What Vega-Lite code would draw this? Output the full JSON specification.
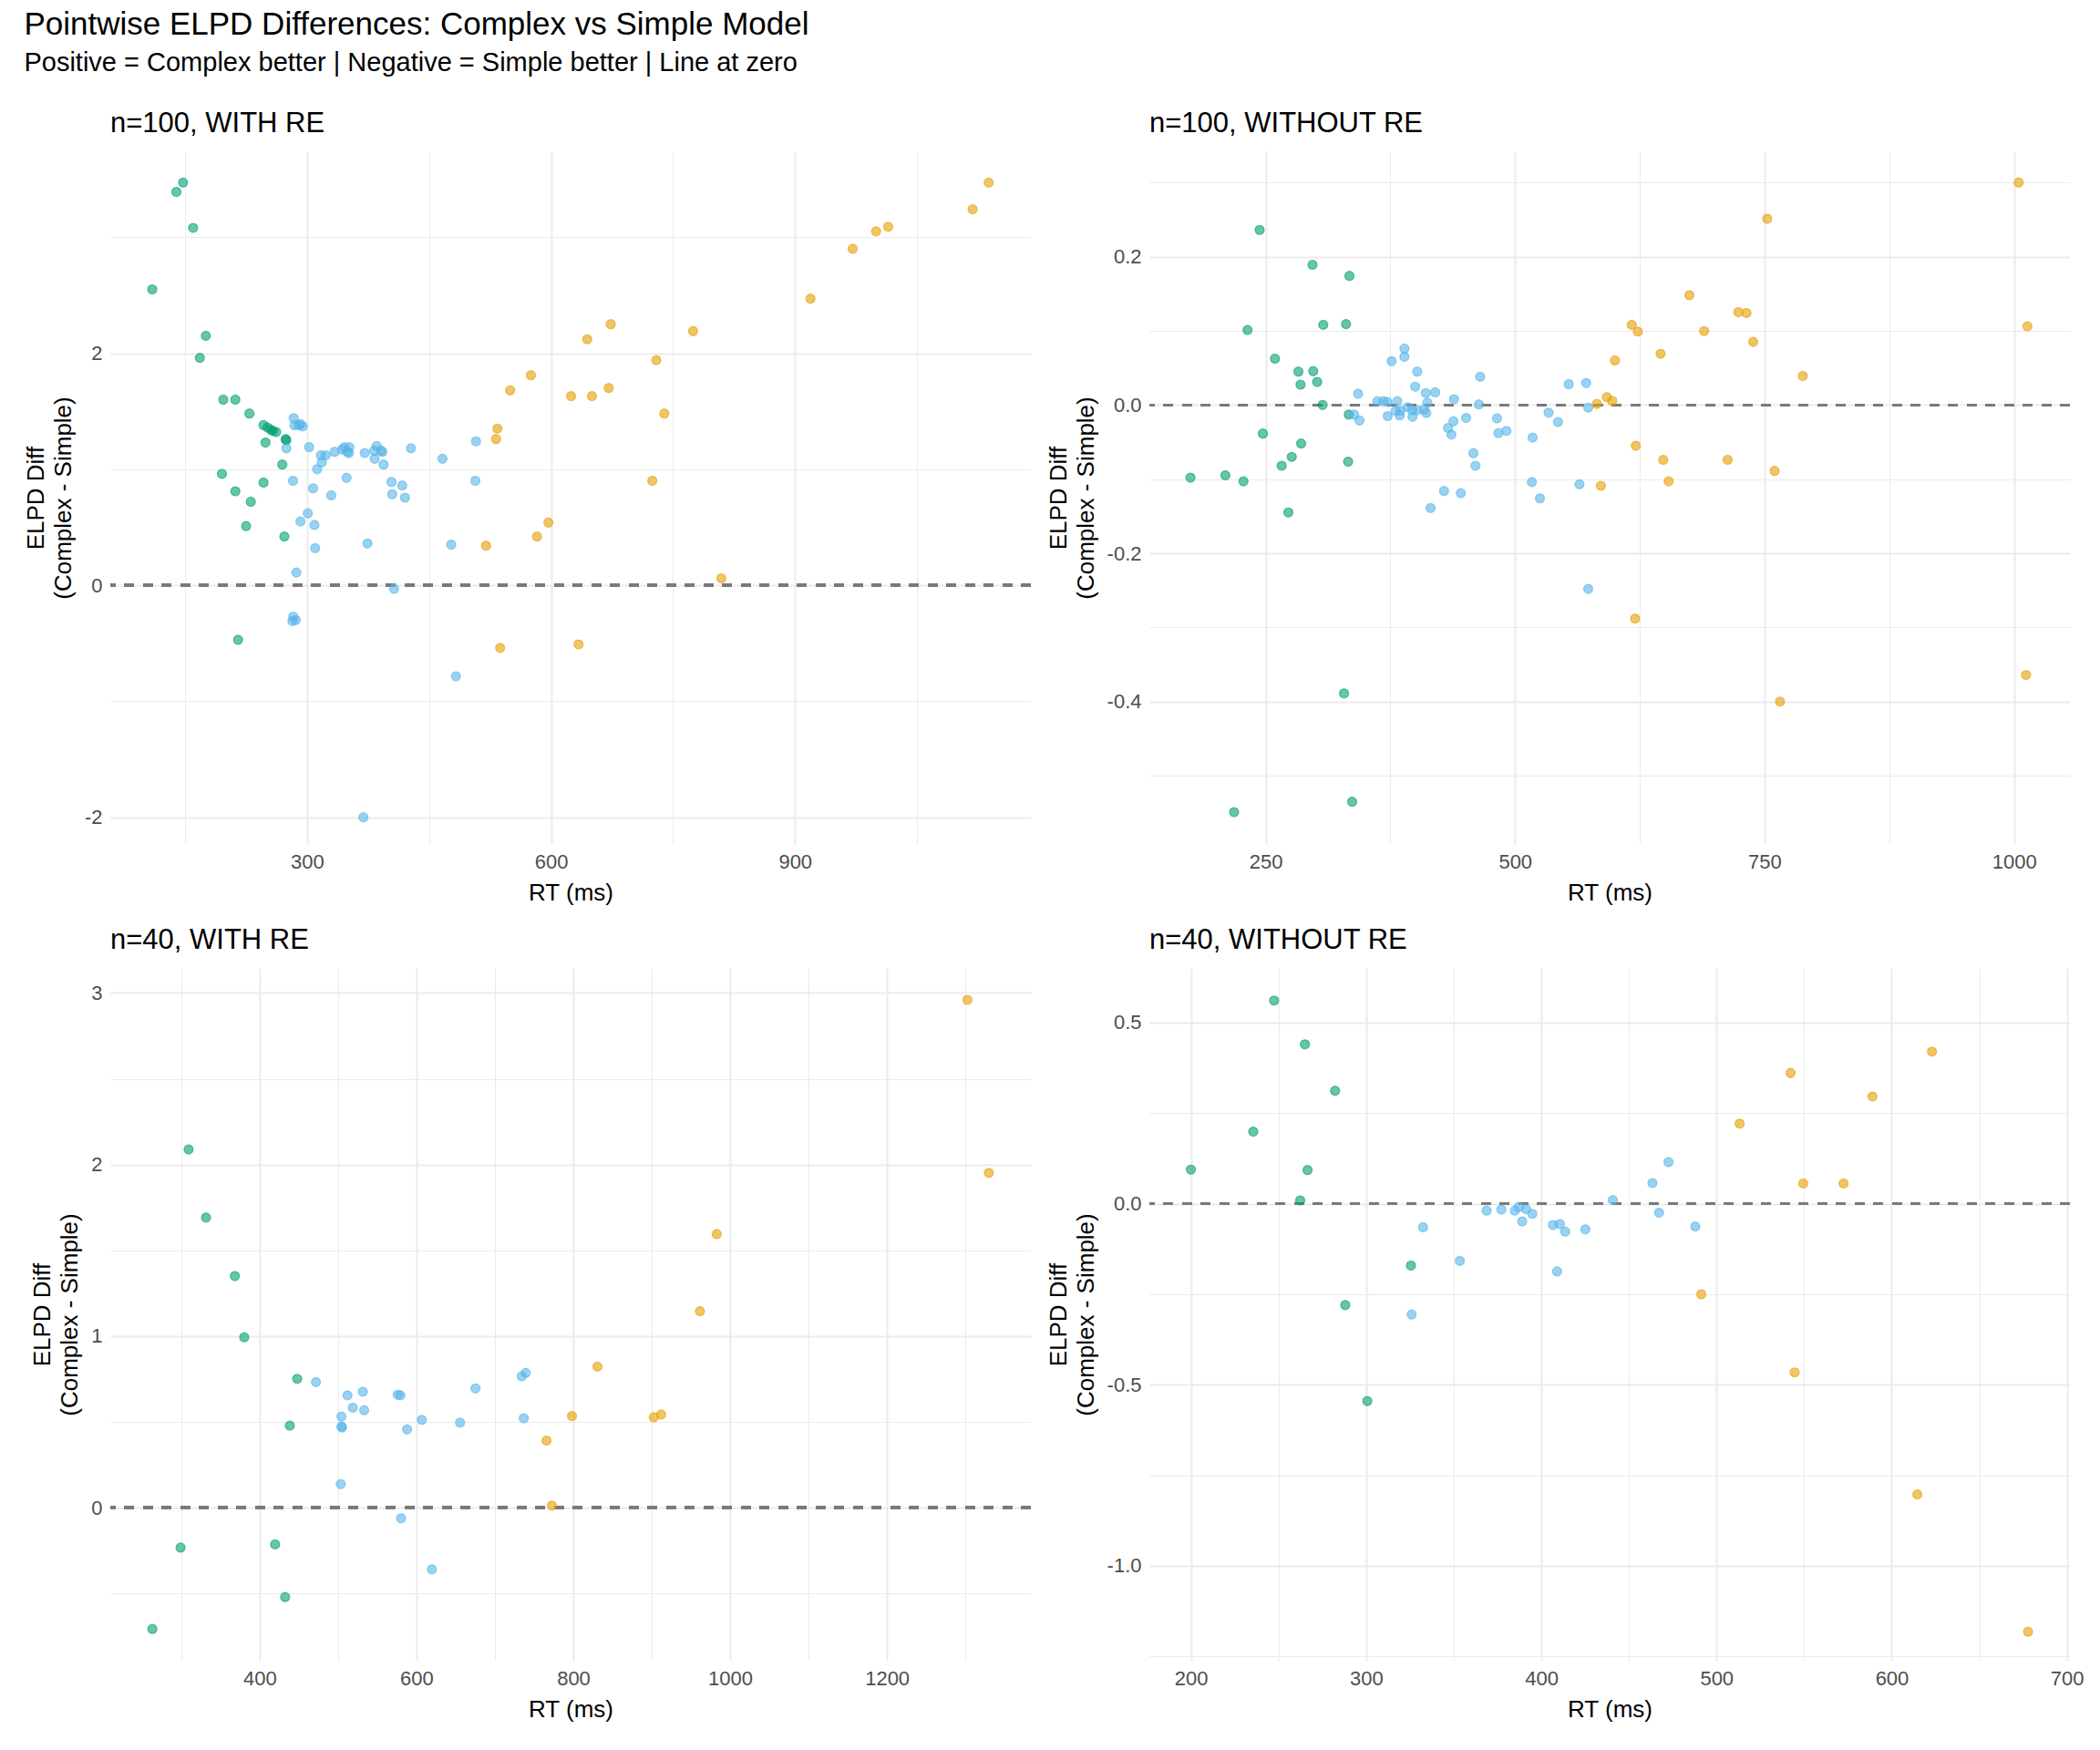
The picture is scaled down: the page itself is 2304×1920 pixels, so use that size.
{
  "$schema": "https://vega.github.io/schema/vega-lite/v6.json",
  "background": "white",
  "padding": {"left": 26, "top": 10, "right": 20, "bottom": 10},
  "config": {
    "font": "Liberation Sans",
    "view": {"stroke": null},
    "axis": {
      "domain": false,
      "ticks": false,
      "grid": true,
      "gridColor": "#ebebeb",
      "labelColor": "#4d4d4d",
      "labelFontSize": 22,
      "labelPadding": 9,
      "titleFontSize": 26,
      "titleLineHeight": 30,
      "titleFontWeight": "normal",
      "titleColor": "#000000",
      "titlePadding": 10
    }
  },
  "title": {
    "text": "Pointwise ELPD Differences: Complex vs Simple Model",
    "subtitle": "Positive = Complex better | Negative = Simple better | Line at zero",
    "anchor": "start",
    "frame": "bounds",
    "fontSize": 35,
    "fontWeight": "normal",
    "color": "#000000",
    "subtitleFontSize": 29,
    "subtitleColor": "#000000",
    "subtitlePadding": 10,
    "offset": 36
  },
  "datasets": {
    "elpd": [
      {"panel": "n=100, WITH RE", "speed": "Fast", "rt": 139.3, "diff": 3.39},
      {"panel": "n=100, WITH RE", "speed": "Fast", "rt": 147.5, "diff": 3.47},
      {"panel": "n=100, WITH RE", "speed": "Fast", "rt": 159.9, "diff": 3.08},
      {"panel": "n=100, WITH RE", "speed": "Fast", "rt": 109.6, "diff": 2.55},
      {"panel": "n=100, WITH RE", "speed": "Fast", "rt": 175.5, "diff": 2.15},
      {"panel": "n=100, WITH RE", "speed": "Fast", "rt": 168.1, "diff": 1.96},
      {"panel": "n=100, WITH RE", "speed": "Fast", "rt": 197.0, "diff": 1.6},
      {"panel": "n=100, WITH RE", "speed": "Fast", "rt": 211.8, "diff": 1.6},
      {"panel": "n=100, WITH RE", "speed": "Fast", "rt": 229.1, "diff": 1.48},
      {"panel": "n=100, WITH RE", "speed": "Fast", "rt": 246.4, "diff": 1.38},
      {"panel": "n=100, WITH RE", "speed": "Fast", "rt": 251.4, "diff": 1.36},
      {"panel": "n=100, WITH RE", "speed": "Fast", "rt": 255.5, "diff": 1.34},
      {"panel": "n=100, WITH RE", "speed": "Fast", "rt": 258.0, "diff": 1.33},
      {"panel": "n=100, WITH RE", "speed": "Fast", "rt": 262.0, "diff": 1.32},
      {"panel": "n=100, WITH RE", "speed": "Fast", "rt": 273.6, "diff": 1.26},
      {"panel": "n=100, WITH RE", "speed": "Fast", "rt": 274.5, "diff": 1.25},
      {"panel": "n=100, WITH RE", "speed": "Fast", "rt": 248.9, "diff": 1.23},
      {"panel": "n=100, WITH RE", "speed": "Fast", "rt": 269.5, "diff": 1.04},
      {"panel": "n=100, WITH RE", "speed": "Fast", "rt": 195.3, "diff": 0.96},
      {"panel": "n=100, WITH RE", "speed": "Fast", "rt": 211.8, "diff": 0.81},
      {"panel": "n=100, WITH RE", "speed": "Fast", "rt": 246.4, "diff": 0.885},
      {"panel": "n=100, WITH RE", "speed": "Fast", "rt": 230.8, "diff": 0.72},
      {"panel": "n=100, WITH RE", "speed": "Fast", "rt": 225.0, "diff": 0.51},
      {"panel": "n=100, WITH RE", "speed": "Fast", "rt": 272.0, "diff": 0.42},
      {"panel": "n=100, WITH RE", "speed": "Fast", "rt": 215.1, "diff": -0.47},
      {"panel": "n=100, WITH RE", "speed": "Medium", "rt": 283.5, "diff": 1.44},
      {"panel": "n=100, WITH RE", "speed": "Medium", "rt": 284.5, "diff": 1.38},
      {"panel": "n=100, WITH RE", "speed": "Medium", "rt": 289.5, "diff": 1.38},
      {"panel": "n=100, WITH RE", "speed": "Medium", "rt": 294.5, "diff": 1.37},
      {"panel": "n=100, WITH RE", "speed": "Medium", "rt": 292.0, "diff": 1.39},
      {"panel": "n=100, WITH RE", "speed": "Medium", "rt": 274.5, "diff": 1.18},
      {"panel": "n=100, WITH RE", "speed": "Medium", "rt": 302.5, "diff": 1.19},
      {"panel": "n=100, WITH RE", "speed": "Medium", "rt": 317.0, "diff": 1.12},
      {"panel": "n=100, WITH RE", "speed": "Medium", "rt": 323.0, "diff": 1.12},
      {"panel": "n=100, WITH RE", "speed": "Medium", "rt": 318.0, "diff": 1.06},
      {"panel": "n=100, WITH RE", "speed": "Medium", "rt": 312.4, "diff": 1.0},
      {"panel": "n=100, WITH RE", "speed": "Medium", "rt": 333.8, "diff": 1.15},
      {"panel": "n=100, WITH RE", "speed": "Medium", "rt": 343.0, "diff": 1.17},
      {"panel": "n=100, WITH RE", "speed": "Medium", "rt": 346.0, "diff": 1.19},
      {"panel": "n=100, WITH RE", "speed": "Medium", "rt": 352.0, "diff": 1.19},
      {"panel": "n=100, WITH RE", "speed": "Medium", "rt": 351.5, "diff": 1.14},
      {"panel": "n=100, WITH RE", "speed": "Medium", "rt": 349.5, "diff": 1.15},
      {"panel": "n=100, WITH RE", "speed": "Medium", "rt": 370.9, "diff": 1.14},
      {"panel": "n=100, WITH RE", "speed": "Medium", "rt": 383.0, "diff": 1.09},
      {"panel": "n=100, WITH RE", "speed": "Medium", "rt": 385.5, "diff": 1.2},
      {"panel": "n=100, WITH RE", "speed": "Medium", "rt": 382.5, "diff": 1.16},
      {"panel": "n=100, WITH RE", "speed": "Medium", "rt": 391.0, "diff": 1.16},
      {"panel": "n=100, WITH RE", "speed": "Medium", "rt": 392.5, "diff": 1.15},
      {"panel": "n=100, WITH RE", "speed": "Medium", "rt": 394.0, "diff": 1.04},
      {"panel": "n=100, WITH RE", "speed": "Medium", "rt": 427.8, "diff": 1.18},
      {"panel": "n=100, WITH RE", "speed": "Medium", "rt": 466.5, "diff": 1.09},
      {"panel": "n=100, WITH RE", "speed": "Medium", "rt": 507.7, "diff": 1.24},
      {"panel": "n=100, WITH RE", "speed": "Medium", "rt": 506.9, "diff": 0.9},
      {"panel": "n=100, WITH RE", "speed": "Medium", "rt": 282.7, "diff": 0.9},
      {"panel": "n=100, WITH RE", "speed": "Medium", "rt": 307.4, "diff": 0.835},
      {"panel": "n=100, WITH RE", "speed": "Medium", "rt": 348.6, "diff": 0.925},
      {"panel": "n=100, WITH RE", "speed": "Medium", "rt": 329.7, "diff": 0.775},
      {"panel": "n=100, WITH RE", "speed": "Medium", "rt": 403.8, "diff": 0.89},
      {"panel": "n=100, WITH RE", "speed": "Medium", "rt": 417.0, "diff": 0.86},
      {"panel": "n=100, WITH RE", "speed": "Medium", "rt": 404.7, "diff": 0.785},
      {"panel": "n=100, WITH RE", "speed": "Medium", "rt": 420.3, "diff": 0.755},
      {"panel": "n=100, WITH RE", "speed": "Medium", "rt": 300.8, "diff": 0.62},
      {"panel": "n=100, WITH RE", "speed": "Medium", "rt": 291.8, "diff": 0.55},
      {"panel": "n=100, WITH RE", "speed": "Medium", "rt": 309.0, "diff": 0.52},
      {"panel": "n=100, WITH RE", "speed": "Medium", "rt": 309.9, "diff": 0.32},
      {"panel": "n=100, WITH RE", "speed": "Medium", "rt": 374.2, "diff": 0.36},
      {"panel": "n=100, WITH RE", "speed": "Medium", "rt": 477.2, "diff": 0.35},
      {"panel": "n=100, WITH RE", "speed": "Medium", "rt": 286.8, "diff": 0.11},
      {"panel": "n=100, WITH RE", "speed": "Medium", "rt": 407.0, "diff": -0.03},
      {"panel": "n=100, WITH RE", "speed": "Medium", "rt": 283.0, "diff": -0.27},
      {"panel": "n=100, WITH RE", "speed": "Medium", "rt": 286.0, "diff": -0.3},
      {"panel": "n=100, WITH RE", "speed": "Medium", "rt": 282.0, "diff": -0.31},
      {"panel": "n=100, WITH RE", "speed": "Medium", "rt": 483.0, "diff": -0.785},
      {"panel": "n=100, WITH RE", "speed": "Medium", "rt": 369.2, "diff": -2.0},
      {"panel": "n=100, WITH RE", "speed": "Slow", "rt": 1138.2, "diff": 3.47},
      {"panel": "n=100, WITH RE", "speed": "Slow", "rt": 1118.4, "diff": 3.24},
      {"panel": "n=100, WITH RE", "speed": "Slow", "rt": 1014.6, "diff": 3.09},
      {"panel": "n=100, WITH RE", "speed": "Slow", "rt": 999.7, "diff": 3.05},
      {"panel": "n=100, WITH RE", "speed": "Slow", "rt": 970.9, "diff": 2.9},
      {"panel": "n=100, WITH RE", "speed": "Slow", "rt": 919.0, "diff": 2.47},
      {"panel": "n=100, WITH RE", "speed": "Slow", "rt": 673.4, "diff": 2.25},
      {"panel": "n=100, WITH RE", "speed": "Slow", "rt": 644.5, "diff": 2.12},
      {"panel": "n=100, WITH RE", "speed": "Slow", "rt": 774.7, "diff": 2.19},
      {"panel": "n=100, WITH RE", "speed": "Slow", "rt": 729.4, "diff": 1.94},
      {"panel": "n=100, WITH RE", "speed": "Slow", "rt": 575.3, "diff": 1.81},
      {"panel": "n=100, WITH RE", "speed": "Slow", "rt": 549.7, "diff": 1.68},
      {"panel": "n=100, WITH RE", "speed": "Slow", "rt": 624.7, "diff": 1.63},
      {"panel": "n=100, WITH RE", "speed": "Slow", "rt": 650.3, "diff": 1.63},
      {"panel": "n=100, WITH RE", "speed": "Slow", "rt": 670.9, "diff": 1.7},
      {"panel": "n=100, WITH RE", "speed": "Slow", "rt": 739.3, "diff": 1.48},
      {"panel": "n=100, WITH RE", "speed": "Slow", "rt": 534.1, "diff": 1.35},
      {"panel": "n=100, WITH RE", "speed": "Slow", "rt": 532.4, "diff": 1.26},
      {"panel": "n=100, WITH RE", "speed": "Slow", "rt": 724.5, "diff": 0.9},
      {"panel": "n=100, WITH RE", "speed": "Slow", "rt": 596.7, "diff": 0.54},
      {"panel": "n=100, WITH RE", "speed": "Slow", "rt": 582.7, "diff": 0.42},
      {"panel": "n=100, WITH RE", "speed": "Slow", "rt": 520.1, "diff": 0.34},
      {"panel": "n=100, WITH RE", "speed": "Slow", "rt": 809.4, "diff": 0.06},
      {"panel": "n=100, WITH RE", "speed": "Slow", "rt": 537.4, "diff": -0.54},
      {"panel": "n=100, WITH RE", "speed": "Slow", "rt": 633.8, "diff": -0.51},

      {"panel": "n=100, WITHOUT RE", "speed": "Fast", "rt": 244.0, "diff": 0.236},
      {"panel": "n=100, WITHOUT RE", "speed": "Fast", "rt": 297.0, "diff": 0.189},
      {"panel": "n=100, WITHOUT RE", "speed": "Fast", "rt": 334.0, "diff": 0.174},
      {"panel": "n=100, WITHOUT RE", "speed": "Fast", "rt": 231.9, "diff": 0.101},
      {"panel": "n=100, WITHOUT RE", "speed": "Fast", "rt": 307.8, "diff": 0.108},
      {"panel": "n=100, WITHOUT RE", "speed": "Fast", "rt": 330.6, "diff": 0.109},
      {"panel": "n=100, WITHOUT RE", "speed": "Fast", "rt": 259.4, "diff": 0.0625},
      {"panel": "n=100, WITHOUT RE", "speed": "Fast", "rt": 282.9, "diff": 0.045},
      {"panel": "n=100, WITHOUT RE", "speed": "Fast", "rt": 297.7, "diff": 0.0456},
      {"panel": "n=100, WITHOUT RE", "speed": "Fast", "rt": 285.0, "diff": 0.0274},
      {"panel": "n=100, WITHOUT RE", "speed": "Fast", "rt": 301.7, "diff": 0.031},
      {"panel": "n=100, WITHOUT RE", "speed": "Fast", "rt": 307.1, "diff": 0.0},
      {"panel": "n=100, WITHOUT RE", "speed": "Fast", "rt": 333.3, "diff": -0.013},
      {"panel": "n=100, WITHOUT RE", "speed": "Fast", "rt": 247.3, "diff": -0.0386},
      {"panel": "n=100, WITHOUT RE", "speed": "Fast", "rt": 285.6, "diff": -0.052},
      {"panel": "n=100, WITHOUT RE", "speed": "Fast", "rt": 276.2, "diff": -0.07},
      {"panel": "n=100, WITHOUT RE", "speed": "Fast", "rt": 266.1, "diff": -0.082},
      {"panel": "n=100, WITHOUT RE", "speed": "Fast", "rt": 332.7, "diff": -0.0765},
      {"panel": "n=100, WITHOUT RE", "speed": "Fast", "rt": 174.7, "diff": -0.098},
      {"panel": "n=100, WITHOUT RE", "speed": "Fast", "rt": 209.7, "diff": -0.095},
      {"panel": "n=100, WITHOUT RE", "speed": "Fast", "rt": 227.8, "diff": -0.103},
      {"panel": "n=100, WITHOUT RE", "speed": "Fast", "rt": 272.8, "diff": -0.145},
      {"panel": "n=100, WITHOUT RE", "speed": "Fast", "rt": 328.6, "diff": -0.389},
      {"panel": "n=100, WITHOUT RE", "speed": "Fast", "rt": 336.7, "diff": -0.535},
      {"panel": "n=100, WITHOUT RE", "speed": "Fast", "rt": 218.4, "diff": -0.549},
      {"panel": "n=100, WITHOUT RE", "speed": "Medium", "rt": 389.1, "diff": 0.076},
      {"panel": "n=100, WITHOUT RE", "speed": "Medium", "rt": 389.1, "diff": 0.065},
      {"panel": "n=100, WITHOUT RE", "speed": "Medium", "rt": 376.3, "diff": 0.059},
      {"panel": "n=100, WITHOUT RE", "speed": "Medium", "rt": 401.9, "diff": 0.045},
      {"panel": "n=100, WITHOUT RE", "speed": "Medium", "rt": 465.0, "diff": 0.038},
      {"panel": "n=100, WITHOUT RE", "speed": "Medium", "rt": 399.9, "diff": 0.0246},
      {"panel": "n=100, WITHOUT RE", "speed": "Medium", "rt": 410.6, "diff": 0.016},
      {"panel": "n=100, WITHOUT RE", "speed": "Medium", "rt": 420.0, "diff": 0.017},
      {"panel": "n=100, WITHOUT RE", "speed": "Medium", "rt": 342.7, "diff": 0.015},
      {"panel": "n=100, WITHOUT RE", "speed": "Medium", "rt": 438.8, "diff": 0.0077},
      {"panel": "n=100, WITHOUT RE", "speed": "Medium", "rt": 362.0, "diff": 0.005},
      {"panel": "n=100, WITHOUT RE", "speed": "Medium", "rt": 368.0, "diff": 0.005},
      {"panel": "n=100, WITHOUT RE", "speed": "Medium", "rt": 372.0, "diff": 0.004},
      {"panel": "n=100, WITHOUT RE", "speed": "Medium", "rt": 382.0, "diff": 0.005},
      {"panel": "n=100, WITHOUT RE", "speed": "Medium", "rt": 412.0, "diff": 0.003},
      {"panel": "n=100, WITHOUT RE", "speed": "Medium", "rt": 463.7, "diff": 0.0007},
      {"panel": "n=100, WITHOUT RE", "speed": "Medium", "rt": 553.8, "diff": 0.028},
      {"panel": "n=100, WITHOUT RE", "speed": "Medium", "rt": 571.2, "diff": 0.0295},
      {"panel": "n=100, WITHOUT RE", "speed": "Medium", "rt": 573.3, "diff": -0.0035},
      {"panel": "n=100, WITHOUT RE", "speed": "Medium", "rt": 392.5, "diff": -0.003},
      {"panel": "n=100, WITHOUT RE", "speed": "Medium", "rt": 380.4, "diff": -0.008},
      {"panel": "n=100, WITHOUT RE", "speed": "Medium", "rt": 385.0, "diff": -0.008},
      {"panel": "n=100, WITHOUT RE", "speed": "Medium", "rt": 397.0, "diff": -0.007},
      {"panel": "n=100, WITHOUT RE", "speed": "Medium", "rt": 402.0, "diff": -0.007},
      {"panel": "n=100, WITHOUT RE", "speed": "Medium", "rt": 409.0, "diff": -0.006},
      {"panel": "n=100, WITHOUT RE", "speed": "Medium", "rt": 411.0, "diff": -0.011},
      {"panel": "n=100, WITHOUT RE", "speed": "Medium", "rt": 372.3, "diff": -0.015},
      {"panel": "n=100, WITHOUT RE", "speed": "Medium", "rt": 384.4, "diff": -0.014},
      {"panel": "n=100, WITHOUT RE", "speed": "Medium", "rt": 397.2, "diff": -0.016},
      {"panel": "n=100, WITHOUT RE", "speed": "Medium", "rt": 338.7, "diff": -0.013},
      {"panel": "n=100, WITHOUT RE", "speed": "Medium", "rt": 344.1, "diff": -0.021},
      {"panel": "n=100, WITHOUT RE", "speed": "Medium", "rt": 451.0, "diff": -0.0175},
      {"panel": "n=100, WITHOUT RE", "speed": "Medium", "rt": 438.2, "diff": -0.022},
      {"panel": "n=100, WITHOUT RE", "speed": "Medium", "rt": 432.8, "diff": -0.031},
      {"panel": "n=100, WITHOUT RE", "speed": "Medium", "rt": 436.2, "diff": -0.04},
      {"panel": "n=100, WITHOUT RE", "speed": "Medium", "rt": 481.9, "diff": -0.018},
      {"panel": "n=100, WITHOUT RE", "speed": "Medium", "rt": 483.2, "diff": -0.038},
      {"panel": "n=100, WITHOUT RE", "speed": "Medium", "rt": 491.3, "diff": -0.035},
      {"panel": "n=100, WITHOUT RE", "speed": "Medium", "rt": 517.5, "diff": -0.044},
      {"panel": "n=100, WITHOUT RE", "speed": "Medium", "rt": 533.6, "diff": -0.0105},
      {"panel": "n=100, WITHOUT RE", "speed": "Medium", "rt": 543.0, "diff": -0.023},
      {"panel": "n=100, WITHOUT RE", "speed": "Medium", "rt": 458.3, "diff": -0.065},
      {"panel": "n=100, WITHOUT RE", "speed": "Medium", "rt": 460.3, "diff": -0.082},
      {"panel": "n=100, WITHOUT RE", "speed": "Medium", "rt": 516.8, "diff": -0.104},
      {"panel": "n=100, WITHOUT RE", "speed": "Medium", "rt": 564.5, "diff": -0.107},
      {"panel": "n=100, WITHOUT RE", "speed": "Medium", "rt": 524.9, "diff": -0.126},
      {"panel": "n=100, WITHOUT RE", "speed": "Medium", "rt": 428.8, "diff": -0.116},
      {"panel": "n=100, WITHOUT RE", "speed": "Medium", "rt": 445.6, "diff": -0.119},
      {"panel": "n=100, WITHOUT RE", "speed": "Medium", "rt": 415.3, "diff": -0.139},
      {"panel": "n=100, WITHOUT RE", "speed": "Medium", "rt": 573.3, "diff": -0.248},
      {"panel": "n=100, WITHOUT RE", "speed": "Slow", "rt": 1004.7, "diff": 0.3},
      {"panel": "n=100, WITHOUT RE", "speed": "Slow", "rt": 752.7, "diff": 0.251},
      {"panel": "n=100, WITHOUT RE", "speed": "Slow", "rt": 674.7, "diff": 0.148},
      {"panel": "n=100, WITHOUT RE", "speed": "Slow", "rt": 723.8, "diff": 0.125},
      {"panel": "n=100, WITHOUT RE", "speed": "Slow", "rt": 731.9, "diff": 0.124},
      {"panel": "n=100, WITHOUT RE", "speed": "Slow", "rt": 616.9, "diff": 0.108},
      {"panel": "n=100, WITHOUT RE", "speed": "Slow", "rt": 623.0, "diff": 0.099},
      {"panel": "n=100, WITHOUT RE", "speed": "Slow", "rt": 689.5, "diff": 0.0996},
      {"panel": "n=100, WITHOUT RE", "speed": "Slow", "rt": 1013.4, "diff": 0.106},
      {"panel": "n=100, WITHOUT RE", "speed": "Slow", "rt": 738.6, "diff": 0.085},
      {"panel": "n=100, WITHOUT RE", "speed": "Slow", "rt": 645.8, "diff": 0.069},
      {"panel": "n=100, WITHOUT RE", "speed": "Slow", "rt": 600.1, "diff": 0.06},
      {"panel": "n=100, WITHOUT RE", "speed": "Slow", "rt": 788.3, "diff": 0.039},
      {"panel": "n=100, WITHOUT RE", "speed": "Slow", "rt": 592.0, "diff": 0.0105},
      {"panel": "n=100, WITHOUT RE", "speed": "Slow", "rt": 597.4, "diff": 0.0056},
      {"panel": "n=100, WITHOUT RE", "speed": "Slow", "rt": 582.0, "diff": 0.0014},
      {"panel": "n=100, WITHOUT RE", "speed": "Slow", "rt": 621.0, "diff": -0.055},
      {"panel": "n=100, WITHOUT RE", "speed": "Slow", "rt": 648.5, "diff": -0.074},
      {"panel": "n=100, WITHOUT RE", "speed": "Slow", "rt": 713.0, "diff": -0.074},
      {"panel": "n=100, WITHOUT RE", "speed": "Slow", "rt": 760.1, "diff": -0.089},
      {"panel": "n=100, WITHOUT RE", "speed": "Slow", "rt": 653.9, "diff": -0.103},
      {"panel": "n=100, WITHOUT RE", "speed": "Slow", "rt": 586.0, "diff": -0.109},
      {"panel": "n=100, WITHOUT RE", "speed": "Slow", "rt": 620.3, "diff": -0.288},
      {"panel": "n=100, WITHOUT RE", "speed": "Slow", "rt": 765.5, "diff": -0.4},
      {"panel": "n=100, WITHOUT RE", "speed": "Slow", "rt": 1012.1, "diff": -0.364},

      {"panel": "n=40, WITH RE", "speed": "Fast", "rt": 309.4, "diff": 2.088},
      {"panel": "n=40, WITH RE", "speed": "Fast", "rt": 331.6, "diff": 1.691},
      {"panel": "n=40, WITH RE", "speed": "Fast", "rt": 368.4, "diff": 1.35},
      {"panel": "n=40, WITH RE", "speed": "Fast", "rt": 380.3, "diff": 0.993},
      {"panel": "n=40, WITH RE", "speed": "Fast", "rt": 447.9, "diff": 0.751},
      {"panel": "n=40, WITH RE", "speed": "Fast", "rt": 438.5, "diff": 0.478},
      {"panel": "n=40, WITH RE", "speed": "Fast", "rt": 299.1, "diff": -0.233},
      {"panel": "n=40, WITH RE", "speed": "Fast", "rt": 419.7, "diff": -0.214},
      {"panel": "n=40, WITH RE", "speed": "Fast", "rt": 432.5, "diff": -0.521},
      {"panel": "n=40, WITH RE", "speed": "Fast", "rt": 263.2, "diff": -0.707},
      {"panel": "n=40, WITH RE", "speed": "Medium", "rt": 471.8, "diff": 0.732},
      {"panel": "n=40, WITH RE", "speed": "Medium", "rt": 512.0, "diff": 0.655},
      {"panel": "n=40, WITH RE", "speed": "Medium", "rt": 531.6, "diff": 0.676},
      {"panel": "n=40, WITH RE", "speed": "Medium", "rt": 518.8, "diff": 0.583},
      {"panel": "n=40, WITH RE", "speed": "Medium", "rt": 533.3, "diff": 0.568},
      {"panel": "n=40, WITH RE", "speed": "Medium", "rt": 504.3, "diff": 0.531},
      {"panel": "n=40, WITH RE", "speed": "Medium", "rt": 504.3, "diff": 0.473},
      {"panel": "n=40, WITH RE", "speed": "Medium", "rt": 505.0, "diff": 0.467},
      {"panel": "n=40, WITH RE", "speed": "Medium", "rt": 576.0, "diff": 0.658},
      {"panel": "n=40, WITH RE", "speed": "Medium", "rt": 579.5, "diff": 0.655},
      {"panel": "n=40, WITH RE", "speed": "Medium", "rt": 588.0, "diff": 0.456},
      {"panel": "n=40, WITH RE", "speed": "Medium", "rt": 606.8, "diff": 0.512},
      {"panel": "n=40, WITH RE", "speed": "Medium", "rt": 655.6, "diff": 0.496},
      {"panel": "n=40, WITH RE", "speed": "Medium", "rt": 675.2, "diff": 0.695},
      {"panel": "n=40, WITH RE", "speed": "Medium", "rt": 734.2, "diff": 0.766},
      {"panel": "n=40, WITH RE", "speed": "Medium", "rt": 739.3, "diff": 0.785},
      {"panel": "n=40, WITH RE", "speed": "Medium", "rt": 736.8, "diff": 0.521},
      {"panel": "n=40, WITH RE", "speed": "Medium", "rt": 503.4, "diff": 0.137},
      {"panel": "n=40, WITH RE", "speed": "Medium", "rt": 580.3, "diff": -0.062},
      {"panel": "n=40, WITH RE", "speed": "Medium", "rt": 619.7, "diff": -0.36},
      {"panel": "n=40, WITH RE", "speed": "Slow", "rt": 1302.6, "diff": 2.96},
      {"panel": "n=40, WITH RE", "speed": "Slow", "rt": 1329.9, "diff": 1.952},
      {"panel": "n=40, WITH RE", "speed": "Slow", "rt": 982.9, "diff": 1.595},
      {"panel": "n=40, WITH RE", "speed": "Slow", "rt": 961.5, "diff": 1.145},
      {"panel": "n=40, WITH RE", "speed": "Slow", "rt": 830.8, "diff": 0.822},
      {"panel": "n=40, WITH RE", "speed": "Slow", "rt": 798.3, "diff": 0.534},
      {"panel": "n=40, WITH RE", "speed": "Slow", "rt": 902.6, "diff": 0.527},
      {"panel": "n=40, WITH RE", "speed": "Slow", "rt": 912.0, "diff": 0.543},
      {"panel": "n=40, WITH RE", "speed": "Slow", "rt": 765.8, "diff": 0.391},
      {"panel": "n=40, WITH RE", "speed": "Slow", "rt": 772.6, "diff": 0.012},

      {"panel": "n=40, WITHOUT RE", "speed": "Fast", "rt": 247.5, "diff": 0.561},
      {"panel": "n=40, WITHOUT RE", "speed": "Fast", "rt": 265.1, "diff": 0.44},
      {"panel": "n=40, WITHOUT RE", "speed": "Fast", "rt": 282.3, "diff": 0.312},
      {"panel": "n=40, WITHOUT RE", "speed": "Fast", "rt": 235.6, "diff": 0.199},
      {"panel": "n=40, WITHOUT RE", "speed": "Fast", "rt": 200.0, "diff": 0.094},
      {"panel": "n=40, WITHOUT RE", "speed": "Fast", "rt": 266.6, "diff": 0.093},
      {"panel": "n=40, WITHOUT RE", "speed": "Fast", "rt": 262.4, "diff": 0.009},
      {"panel": "n=40, WITHOUT RE", "speed": "Fast", "rt": 325.6, "diff": -0.171},
      {"panel": "n=40, WITHOUT RE", "speed": "Fast", "rt": 288.1, "diff": -0.28},
      {"panel": "n=40, WITHOUT RE", "speed": "Fast", "rt": 300.7, "diff": -0.545},
      {"panel": "n=40, WITHOUT RE", "speed": "Medium", "rt": 472.6, "diff": 0.115},
      {"panel": "n=40, WITHOUT RE", "speed": "Medium", "rt": 463.4, "diff": 0.057},
      {"panel": "n=40, WITHOUT RE", "speed": "Medium", "rt": 440.8, "diff": 0.01},
      {"panel": "n=40, WITHOUT RE", "speed": "Medium", "rt": 467.2, "diff": -0.025},
      {"panel": "n=40, WITHOUT RE", "speed": "Medium", "rt": 487.9, "diff": -0.063},
      {"panel": "n=40, WITHOUT RE", "speed": "Medium", "rt": 368.8, "diff": -0.019},
      {"panel": "n=40, WITHOUT RE", "speed": "Medium", "rt": 377.2, "diff": -0.016},
      {"panel": "n=40, WITHOUT RE", "speed": "Medium", "rt": 384.9, "diff": -0.019},
      {"panel": "n=40, WITHOUT RE", "speed": "Medium", "rt": 387.2, "diff": -0.009},
      {"panel": "n=40, WITHOUT RE", "speed": "Medium", "rt": 391.4, "diff": -0.015},
      {"panel": "n=40, WITHOUT RE", "speed": "Medium", "rt": 394.9, "diff": -0.028},
      {"panel": "n=40, WITHOUT RE", "speed": "Medium", "rt": 389.1, "diff": -0.049},
      {"panel": "n=40, WITHOUT RE", "speed": "Medium", "rt": 406.7, "diff": -0.059},
      {"panel": "n=40, WITHOUT RE", "speed": "Medium", "rt": 410.6, "diff": -0.056},
      {"panel": "n=40, WITHOUT RE", "speed": "Medium", "rt": 413.6, "diff": -0.077},
      {"panel": "n=40, WITHOUT RE", "speed": "Medium", "rt": 425.1, "diff": -0.071},
      {"panel": "n=40, WITHOUT RE", "speed": "Medium", "rt": 332.5, "diff": -0.065},
      {"panel": "n=40, WITHOUT RE", "speed": "Medium", "rt": 353.5, "diff": -0.158},
      {"panel": "n=40, WITHOUT RE", "speed": "Medium", "rt": 409.0, "diff": -0.187},
      {"panel": "n=40, WITHOUT RE", "speed": "Medium", "rt": 326.0, "diff": -0.306},
      {"panel": "n=40, WITHOUT RE", "speed": "Slow", "rt": 623.0, "diff": 0.42},
      {"panel": "n=40, WITHOUT RE", "speed": "Slow", "rt": 542.3, "diff": 0.361},
      {"panel": "n=40, WITHOUT RE", "speed": "Slow", "rt": 589.0, "diff": 0.296},
      {"panel": "n=40, WITHOUT RE", "speed": "Slow", "rt": 513.2, "diff": 0.221},
      {"panel": "n=40, WITHOUT RE", "speed": "Slow", "rt": 549.5, "diff": 0.056},
      {"panel": "n=40, WITHOUT RE", "speed": "Slow", "rt": 572.5, "diff": 0.056},
      {"panel": "n=40, WITHOUT RE", "speed": "Slow", "rt": 491.3, "diff": -0.25},
      {"panel": "n=40, WITHOUT RE", "speed": "Slow", "rt": 544.6, "diff": -0.466},
      {"panel": "n=40, WITHOUT RE", "speed": "Slow", "rt": 614.6, "diff": -0.803},
      {"panel": "n=40, WITHOUT RE", "speed": "Slow", "rt": 677.8, "diff": -1.182}
    ]
  },
  "columns": 2,
  "spacing": {"row": 24, "column": 15},
  "concat": [
    {
      "title": {"text": "n=100, WITH RE", "anchor": "start", "frame": "group", "fontSize": 31, "fontWeight": "normal", "offset": 14},
      "width": 1010,
      "height": 760,
      "data": {"name": "elpd"},
      "transform": [{"filter": "datum.panel === 'n=100, WITH RE'"}],
      "layer": [
        {
          "mark": {"type": "rule", "color": "#7a7a7a", "strokeWidth": 2.6, "strokeDash": [10.5, 10]},
          "encoding": {"y": {"datum": 0}}
        },
        {
          "mark": {"type": "circle", "size": 100, "fillOpacity": 0.6, "strokeOpacity": 0.6, "strokeWidth": 1.2},
          "encoding": {
            "x": {"field": "rt", "type": "quantitative", "title": "RT (ms)",
              "scale": {"domain": [58, 1190], "nice": false, "zero": false},
              "axis": {"values": [150, 300, 450, 600, 750, 900, 1050], "format": "d",
                "labelExpr": "indexof([300, 600, 900], datum.value) >= 0 ? datum.label : ''",
                "gridWidth": {"condition": {"test": "indexof([300, 600, 900], datum.value) >= 0", "value": 2}, "value": 1}}},
            "y": {"field": "diff", "type": "quantitative", "title": ["ELPD Diff", "(Complex - Simple)"],
              "scale": {"domain": [-2.23, 3.74], "nice": false, "zero": false},
              "axis": {"values": [-2, -1, 0, 1, 2, 3], "format": "d",
                "labelExpr": "indexof([-2, 0, 2], datum.value) >= 0 ? replace(datum.label, '\u2212', '-') : ''",
                "gridWidth": {"condition": {"test": "indexof([-2, 0, 2], datum.value) >= 0", "value": 2}, "value": 1}}},
            "color": {"field": "speed", "type": "nominal", "legend": null,
              "scale": {"domain": ["Fast", "Medium", "Slow"], "range": ["#009E73", "#56B4E9", "#E69F00"]}},
            "stroke": {"field": "speed", "type": "nominal", "legend": null,
              "scale": {"domain": ["Fast", "Medium", "Slow"], "range": ["#009E73", "#56B4E9", "#E69F00"]}}
          }
        }
      ]
    },
    {
      "title": {"text": "n=100, WITHOUT RE", "anchor": "start", "frame": "group", "fontSize": 31, "fontWeight": "normal", "offset": 14},
      "width": 1010,
      "height": 760,
      "data": {"name": "elpd"},
      "transform": [{"filter": "datum.panel === 'n=100, WITHOUT RE'"}],
      "layer": [
        {
          "mark": {"type": "rule", "color": "#7a7a7a", "strokeWidth": 2.6, "strokeDash": [10.5, 10]},
          "encoding": {"y": {"datum": 0}}
        },
        {
          "mark": {"type": "circle", "size": 100, "fillOpacity": 0.6, "strokeOpacity": 0.6, "strokeWidth": 1.2},
          "encoding": {
            "x": {"field": "rt", "type": "quantitative", "title": "RT (ms)",
              "scale": {"domain": [133.5, 1056], "nice": false, "zero": false},
              "axis": {"values": [250, 375, 500, 625, 750, 875, 1000], "format": "d",
                "labelExpr": "indexof([250, 500, 750, 1000], datum.value) >= 0 ? datum.label : ''",
                "gridWidth": {"condition": {"test": "indexof([250, 500, 750, 1000], datum.value) >= 0", "value": 2}, "value": 1}}},
            "y": {"field": "diff", "type": "quantitative", "title": ["ELPD Diff", "(Complex - Simple)"],
              "scale": {"domain": [-0.592, 0.342], "nice": false, "zero": false},
              "axis": {"values": [-0.5, -0.4, -0.3, -0.2, -0.1, 0, 0.1, 0.2, 0.3], "format": ".1f",
                "labelExpr": "indexof([-0.4, -0.2, 0, 0.2], datum.value) >= 0 ? replace(datum.label, '\u2212', '-') : ''",
                "gridWidth": {"condition": {"test": "indexof([-0.4, -0.2, 0, 0.2], datum.value) >= 0", "value": 2}, "value": 1}}},
            "color": {"field": "speed", "type": "nominal", "legend": null,
              "scale": {"domain": ["Fast", "Medium", "Slow"], "range": ["#009E73", "#56B4E9", "#E69F00"]}},
            "stroke": {"field": "speed", "type": "nominal", "legend": null,
              "scale": {"domain": ["Fast", "Medium", "Slow"], "range": ["#009E73", "#56B4E9", "#E69F00"]}}
          }
        }
      ]
    },
    {
      "title": {"text": "n=40, WITH RE", "anchor": "start", "frame": "group", "fontSize": 31, "fontWeight": "normal", "offset": 14},
      "width": 1010,
      "height": 760,
      "data": {"name": "elpd"},
      "transform": [{"filter": "datum.panel === 'n=40, WITH RE'"}],
      "layer": [
        {
          "mark": {"type": "rule", "color": "#7a7a7a", "strokeWidth": 2.6, "strokeDash": [10.5, 10]},
          "encoding": {"y": {"datum": 0}}
        },
        {
          "mark": {"type": "circle", "size": 100, "fillOpacity": 0.6, "strokeOpacity": 0.6, "strokeWidth": 1.2},
          "encoding": {
            "x": {"field": "rt", "type": "quantitative", "title": "RT (ms)",
              "scale": {"domain": [209.5, 1383.5], "nice": false, "zero": false},
              "axis": {"values": [300, 400, 500, 600, 700, 800, 900, 1000, 1100, 1200, 1300], "format": "d",
                "labelExpr": "indexof([400, 600, 800, 1000, 1200], datum.value) >= 0 ? datum.label : ''",
                "gridWidth": {"condition": {"test": "indexof([400, 600, 800, 1000, 1200], datum.value) >= 0", "value": 2}, "value": 1}}},
            "y": {"field": "diff", "type": "quantitative", "title": ["ELPD Diff", "(Complex - Simple)"],
              "scale": {"domain": [-0.892, 3.146], "nice": false, "zero": false},
              "axis": {"values": [-0.5, 0, 0.5, 1, 1.5, 2, 2.5, 3], "format": ".2~f",
                "labelExpr": "indexof([0, 1, 2, 3], datum.value) >= 0 ? replace(datum.label, '\u2212', '-') : ''",
                "gridWidth": {"condition": {"test": "indexof([0, 1, 2, 3], datum.value) >= 0", "value": 2}, "value": 1}}},
            "color": {"field": "speed", "type": "nominal", "legend": null,
              "scale": {"domain": ["Fast", "Medium", "Slow"], "range": ["#009E73", "#56B4E9", "#E69F00"]}},
            "stroke": {"field": "speed", "type": "nominal", "legend": null,
              "scale": {"domain": ["Fast", "Medium", "Slow"], "range": ["#009E73", "#56B4E9", "#E69F00"]}}
          }
        }
      ]
    },
    {
      "title": {"text": "n=40, WITHOUT RE", "anchor": "start", "frame": "group", "fontSize": 31, "fontWeight": "normal", "offset": 14},
      "width": 1010,
      "height": 760,
      "data": {"name": "elpd"},
      "transform": [{"filter": "datum.panel === 'n=40, WITHOUT RE'"}],
      "layer": [
        {
          "mark": {"type": "rule", "color": "#7a7a7a", "strokeWidth": 2.6, "strokeDash": [10.5, 10]},
          "encoding": {"y": {"datum": 0}}
        },
        {
          "mark": {"type": "circle", "size": 100, "fillOpacity": 0.6, "strokeOpacity": 0.6, "strokeWidth": 1.2},
          "encoding": {
            "x": {"field": "rt", "type": "quantitative", "title": "RT (ms)",
              "scale": {"domain": [176.3, 701.7], "nice": false, "zero": false},
              "axis": {"values": [200, 250, 300, 350, 400, 450, 500, 550, 600, 650, 700], "format": "d",
                "labelExpr": "indexof([200, 300, 400, 500, 600, 700], datum.value) >= 0 ? datum.label : ''",
                "gridWidth": {"condition": {"test": "indexof([200, 300, 400, 500, 600, 700], datum.value) >= 0", "value": 2}, "value": 1}}},
            "y": {"field": "diff", "type": "quantitative", "title": ["ELPD Diff", "(Complex - Simple)"],
              "scale": {"domain": [-1.262, 0.651], "nice": false, "zero": false},
              "axis": {"values": [-1.25, -1, -0.75, -0.5, -0.25, 0, 0.25, 0.5], "format": ".1f",
                "labelExpr": "indexof([-1, -0.5, 0, 0.5], datum.value) >= 0 ? replace(datum.label, '\u2212', '-') : ''",
                "gridWidth": {"condition": {"test": "indexof([-1, -0.5, 0, 0.5], datum.value) >= 0", "value": 2}, "value": 1}}},
            "color": {"field": "speed", "type": "nominal", "legend": null,
              "scale": {"domain": ["Fast", "Medium", "Slow"], "range": ["#009E73", "#56B4E9", "#E69F00"]}},
            "stroke": {"field": "speed", "type": "nominal", "legend": null,
              "scale": {"domain": ["Fast", "Medium", "Slow"], "range": ["#009E73", "#56B4E9", "#E69F00"]}}
          }
        }
      ]
    }
  ]
}
